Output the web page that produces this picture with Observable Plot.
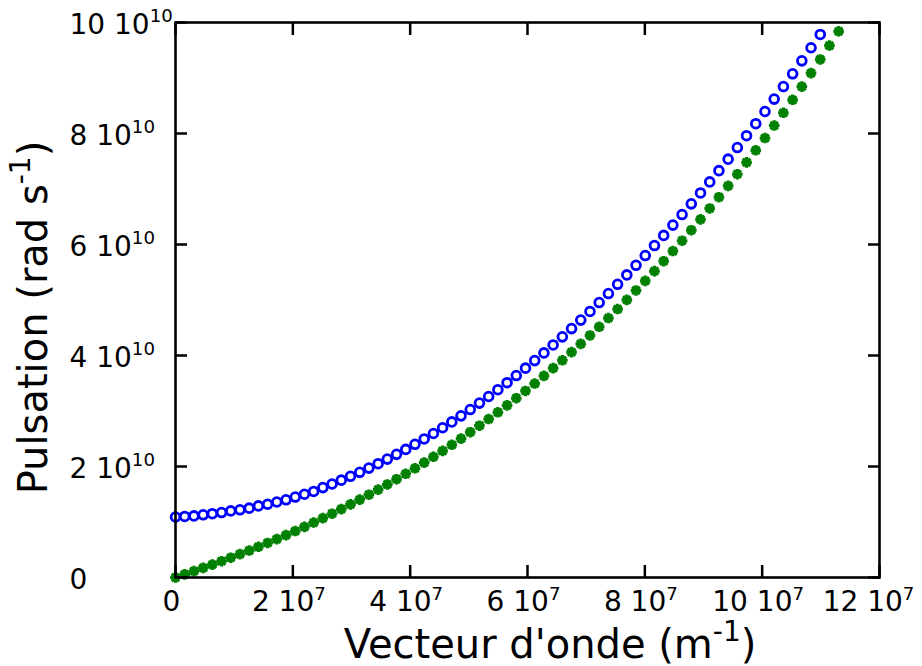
<!DOCTYPE html>
<html><head><meta charset="utf-8">
<script src="https://cdn.jsdelivr.net/npm/d3@7"></script>
<script src="https://cdn.jsdelivr.net/npm/@observablehq/plot@0.6"></script>
<style>html,body{margin:0;padding:0;background:#fff}svg{display:block}</style>
</head><body><div id="chart"></div>
<script>
// wave vector, in units of 1e7 m^-1
const waveVector = [0, 0.157, 0.314, 0.471, 0.628, 0.785, 0.942, 1.099, 1.256, 1.413, 1.570, 1.727, 1.884, 2.041, 2.198, 2.355, 2.512, 2.669, 2.826, 2.983, 3.140, 3.297, 3.454, 3.611, 3.768, 3.925, 4.082, 4.239, 4.396, 4.553, 4.710, 4.867, 5.024, 5.181, 5.338, 5.495, 5.652, 5.809, 5.966, 6.123, 6.280, 6.437, 6.594, 6.751, 6.908, 7.065, 7.222, 7.379, 7.536, 7.693, 7.850, 8.007, 8.164, 8.321, 8.478, 8.635, 8.792, 8.949, 9.106, 9.263, 9.420, 9.577, 9.734, 9.891, 10.048, 10.205, 10.362, 10.519, 10.676, 10.833, 10.990, 11.147, 11.304];
// pulsation, in units of 1e10 rad/s
const pulsationBlue = [1.09, 1.10, 1.11, 1.13, 1.15, 1.17, 1.20, 1.22, 1.25, 1.29, 1.32, 1.36, 1.40, 1.45, 1.50, 1.55, 1.62, 1.685, 1.754, 1.823, 1.895, 1.971, 2.050, 2.133, 2.219, 2.308, 2.400, 2.496, 2.595, 2.698, 2.804, 2.913, 3.026, 3.142, 3.261, 3.384, 3.510, 3.639, 3.772, 3.908, 4.047, 4.190, 4.336, 4.485, 4.638, 4.794, 4.954, 5.116, 5.283, 5.452, 5.625, 5.801, 5.981, 6.164, 6.350, 6.540, 6.732, 6.929, 7.128, 7.331, 7.538, 7.747, 7.960, 8.177, 8.396, 8.620, 8.846, 9.076, 9.309, 9.545, 9.785];
const pulsationGreen = [0, 0.056, 0.114, 0.173, 0.232, 0.294, 0.356, 0.421, 0.486, 0.553, 0.622, 0.692, 0.764, 0.837, 0.913, 0.990, 1.069, 1.149, 1.232, 1.317, 1.403, 1.492, 1.583, 1.676, 1.771, 1.869, 1.968, 2.070, 2.175, 2.282, 2.391, 2.503, 2.618, 2.735, 2.855, 2.977, 3.102, 3.230, 3.361, 3.495, 3.632, 3.772, 3.914, 4.060, 4.209, 4.361, 4.517, 4.675, 4.837, 5.003, 5.172, 5.344, 5.520, 5.699, 5.882, 6.068, 6.258, 6.452, 6.650, 6.852, 7.057, 7.266, 7.480, 7.697, 7.918, 8.144, 8.373, 8.607, 8.845, 9.088, 9.334, 9.585, 9.841];

const xTicks = [0, 2, 4, 6, 8, 10, 12];
const xTickLabels = ["0", "2 10^7", "4 10^7", "6 10^7", "8 10^7", "10 10^7", "12 10^7"];
const yTicks = [0, 2, 4, 6, 8, 10];
const yTickLabels = ["0", "2 10^10", "4 10^10", "6 10^10", "8 10^10", "10 10^10"];
const xTitle = ["Vecteur d'onde (m", "-1", ")"];
const yTitle = ["Pulsation (rad s", "-1", ")"];

const blue = pulsationBlue.map((w, i) => ({k: waveVector[i], w}));
const green = pulsationGreen.map((w, i) => ({k: waveVector[i], w}));

const asterisk = {
  draw(ctx, size) {
    const r = Math.sqrt(size / Math.PI);
    for (let a = 0; a < 4; a++) {
      const t = a * Math.PI / 4;
      ctx.moveTo(r * Math.cos(t), r * Math.sin(t));
      ctx.lineTo(-r * Math.cos(t), -r * Math.sin(t));
    }
  }
};

const FS = 28;
const xFmt = d => xTickLabels[xTicks.indexOf(d)];
const yFmt = d => yTickLabels[yTicks.indexOf(d)];

const plot = Plot.plot({
  width: 922,
  height: 666,
  marginLeft: 175,
  marginRight: 43,
  marginTop: 22,
  marginBottom: 89,
  style: {fontFamily: "'DejaVu Sans', sans-serif", fontSize: FS + "px", background: "#fff", color: "#000"},
  x: {domain: [0, 12]},
  y: {domain: [0, 10]},
  marks: [
    Plot.dot(blue, {x: "k", y: "w", r: 4.4, stroke: "#0000ff", strokeWidth: 2.8, fill: "none"}),
    Plot.dot(green, {x: "k", y: "w", r: 5.3, symbol: asterisk, stroke: "#008000", strokeWidth: 3.2, fill: "none"}),
    // inward ticks on all sides
    Plot.axisX(xTicks, {anchor: "bottom", tickSize: -12, tickFormat: () => "", strokeWidth: 2.5, label: null}),
    Plot.axisX(xTicks, {anchor: "top", tickSize: -12, tickFormat: () => "", strokeWidth: 2.5, label: null}),
    Plot.axisY(yTicks, {anchor: "left", tickSize: -12, tickFormat: () => "", strokeWidth: 2.5, label: null}),
    Plot.axisY(yTicks, {anchor: "right", tickSize: -12, tickFormat: () => "", strokeWidth: 2.5, label: null}),
    // tick labels
    Plot.axisX(xTicks, {anchor: "bottom", tickSize: 0, tickPadding: 14, tickFormat: xFmt, label: null, fontSize: FS, dx: -4}),
    Plot.axisY(yTicks, {anchor: "left", tickSize: 0, tickPadding: 0, tickFormat: yFmt, label: null, fontSize: FS, textAnchor: "start", dx: -106, dy: 2.5}),
    Plot.frame({stroke: "#000", strokeWidth: 2.6})
  ]
});

// superscripts in tick labels
const NS = "http://www.w3.org/2000/svg";
plot.querySelectorAll("text").forEach(t => {
  const s = t.textContent;
  if (s.includes("^")) {
    const [base, sup] = s.split("^");
    t.textContent = base;
    const ts = document.createElementNS(NS, "tspan");
    ts.setAttribute("font-size", (FS * 0.65) + "px");
    ts.setAttribute("dy", -0.41 * FS);
    ts.textContent = sup;
    t.appendChild(ts);
    if (base === "12 10") t.setAttribute("transform", (t.getAttribute("transform") || "") + " translate(-7,0)");
  }
});

function addTitle(svg, parts, x, y, rotate) {
  const TFS = 40;
  const t = document.createElementNS(NS, "text");
  t.setAttribute("text-anchor", "middle");
  t.setAttribute("font-size", TFS + "px");
  t.setAttribute("fill", "#000");
  t.setAttribute("transform", `translate(${x},${y})` + (rotate ? " rotate(-90)" : ""));
  const a = document.createElementNS(NS, "tspan"); a.textContent = parts[0];
  const b = document.createElementNS(NS, "tspan"); b.textContent = parts[1];
  b.setAttribute("font-size", (TFS * 0.7) + "px"); b.setAttribute("dy", -0.42 * TFS);
  const c = document.createElementNS(NS, "tspan"); c.textContent = parts[2];
  c.setAttribute("dy", 0.42 * TFS);
  t.append(a, b, c);
  svg.appendChild(t);
}
addTitle(plot, xTitle, 550, 658, false);
addTitle(plot, yTitle, 47, 317.5, true);

document.getElementById("chart").appendChild(plot);
</script>
</body></html>
